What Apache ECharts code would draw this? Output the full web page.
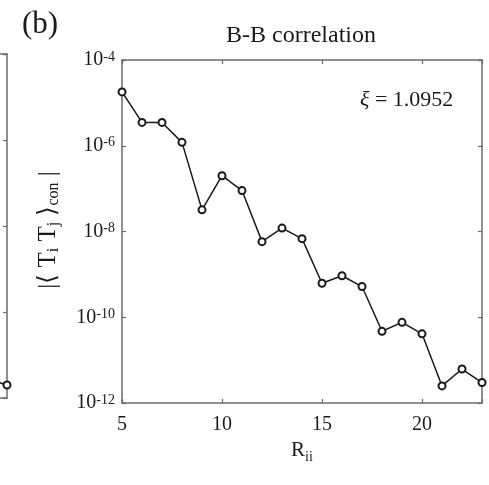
<!DOCTYPE html>
<html>
<head>
<meta charset="utf-8">
<style>
  html, body { margin: 0; padding: 0; background: #fff; }
  #chart { width: 489px; height: 485px; }
</style>
<script src="https://cdn.jsdelivr.net/npm/echarts@6/dist/echarts.min.js"></script>
</head>
<body>
<div id="chart"></div>
<script>
// Separation R_ii and the connected B-B correlation |<T_i T_j>_con|
const rValues = [5, 6, 7, 8, 9, 10, 11, 12, 13, 14, 15, 16, 17, 18, 19, 20, 21, 22, 23];
const bbCorr = [
  1.8e-5, 3.5e-6, 3.5e-6, 1.2e-6, 3.2e-8, 2.0e-7, 9.0e-8, 5.8e-9, 1.2e-8, 6.8e-9,
  6.2e-10, 9.3e-10, 5.2e-10, 4.7e-11, 7.6e-11, 4.1e-11, 2.5e-12, 6.2e-12, 3.0e-12
];
// Tail of the neighbouring panel (a), only its right edge is inside the page
const panelAR = [22, 23];
const panelACorr = [2.8e-12, 2.0e-12];

const xTicks = [5, 10, 15, 20];
const yExpMin = -12, yExpMax = -4;
const corrLength = '1.0952';

const FONT = 'Liberation Serif';
const INK = '#1a1a1a';
const AXIS = '#6b6b6b';

const chart = echarts.init(document.getElementById('chart'), null, { renderer: 'canvas' });

const pairs = (xs, ys) => xs.map((x, i) => [x, ys[i]]);

const powLabel = v => '{b|10}{p|' + Math.round(Math.log10(v)) + '}';
const powRich = {
  b: { fontFamily: FONT, fontSize: 20, lineHeight: 20, padding: [8, 0, 0, 0], verticalAlign: 'bottom', color: INK },
  p: { fontFamily: FONT, fontSize: 14, lineHeight: 14, verticalAlign: 'top', color: INK }
};

const boxLine = { show: true, onZero: false, lineStyle: { color: AXIS, width: 1.5 } };
const inTick = { show: true, inside: true, length: 4, lineStyle: { color: AXIS, width: 1.2 } };

const option = {
  animation: false,
  backgroundColor: '#fff',
  grid: [
    { left: 122, top: 60, width: 360, height: 343, outerBoundsMode: 'none', containLabel: false },
    { left: -353, top: 54, width: 360, height: 344, outerBoundsMode: 'none', containLabel: false }
  ],
  xAxis: [
    {
      gridIndex: 0, type: 'value', position: 'bottom',
      min: xTicks[0], max: rValues[rValues.length - 1], interval: 5,
      axisLine: boxLine, axisTick: inTick, splitLine: { show: false },
      axisLabel: {
        margin: 12, fontFamily: FONT, fontSize: 20, color: INK,
        formatter: v => (v % 5 === 0 ? String(v) : '')
      },
      name: '{m|R}{s|ii}', nameLocation: 'middle', nameGap: 19,
      nameTextStyle: {
        rich: {
          m: { fontFamily: FONT, fontSize: 21, lineHeight: 24, verticalAlign: 'top', color: INK },
          s: { fontFamily: FONT, fontSize: 14, lineHeight: 14, verticalAlign: 'bottom', color: INK }
        }
      }
    },
    {
      gridIndex: 0, type: 'value', position: 'top',
      min: xTicks[0], max: rValues[rValues.length - 1], interval: 5,
      axisLine: boxLine, axisTick: inTick, axisLabel: { show: false }, splitLine: { show: false }
    },
    {
      gridIndex: 1, type: 'value', position: 'bottom', min: 5, max: 23,
      axisLine: boxLine, axisTick: { show: false }, axisLabel: { show: false }, splitLine: { show: false }
    },
    {
      gridIndex: 1, type: 'value', position: 'top', min: 5, max: 23,
      axisLine: boxLine, axisTick: { show: false }, axisLabel: { show: false }, splitLine: { show: false }
    }
  ],
  yAxis: [
    {
      gridIndex: 0, type: 'log', logBase: 10, position: 'left',
      min: Math.pow(10, yExpMin), max: Math.pow(10, yExpMax), interval: 2,
      axisLine: boxLine, axisTick: inTick, splitLine: { show: false }, minorTick: { show: false },
      axisLabel: { margin: 7, formatter: powLabel, rich: powRich }
    },
    {
      gridIndex: 0, type: 'log', logBase: 10, position: 'right',
      min: Math.pow(10, yExpMin), max: Math.pow(10, yExpMax), interval: 2,
      axisLine: boxLine, axisTick: inTick, axisLabel: { show: false }, splitLine: { show: false }
    },
    {
      gridIndex: 1, type: 'log', logBase: 10, position: 'right',
      min: Math.pow(10, yExpMin), max: Math.pow(10, yExpMax), interval: 2,
      axisLine: boxLine, axisTick: inTick, axisLabel: { show: false }, splitLine: { show: false }
    }
  ],
  series: [
    {
      type: 'line', xAxisIndex: 0, yAxisIndex: 0,
      data: pairs(rValues, bbCorr),
      symbol: 'emptyCircle', symbolSize: 7,
      lineStyle: { color: INK, width: 1.5 },
      itemStyle: { color: INK, borderColor: INK, borderWidth: 1.3 },
      z: 5
    },
    {
      type: 'line', xAxisIndex: 2, yAxisIndex: 2,
      data: pairs(panelAR, panelACorr),
      symbol: 'emptyCircle', symbolSize: 7,
      lineStyle: { color: INK, width: 1.5 },
      itemStyle: { color: INK, borderColor: INK, borderWidth: 1.3 },
      clip: false
    }
  ],
  graphic: [
    {
      type: 'text', left: 22, top: 9,
      style: { text: '(b)', fontFamily: FONT, fontSize: 31, fill: INK }
    },
    {
      type: 'text', x: 301, y: 36,
      style: { text: 'B-B correlation', fontFamily: FONT, fontSize: 24, fill: INK, align: 'center', verticalAlign: 'middle' }
    },
    {
      type: 'text', x: 360, y: 100,
      style: {
        text: '{g|ξ}{n| = ' + corrLength + '}',
        align: 'left', verticalAlign: 'middle',
        rich: {
          g: { fontFamily: FONT, fontStyle: 'italic', fontSize: 22, fill: INK, color: INK },
          n: { fontFamily: FONT, fontSize: 22, fill: INK, color: INK }
        }
      }
    },
    {
      type: 'text', x: 49, y: 230, rotation: Math.PI / 2,
      style: {
        text: '{m||⟨ T}{s|i}{m| T}{s|j}{m| ⟩}{s|con}{m| |}',
        align: 'center', verticalAlign: 'middle',
        rich: {
          m: { fontFamily: FONT, fontSize: 25, lineHeight: 26, verticalAlign: 'top', fill: INK, color: INK },
          s: { fontFamily: FONT, fontSize: 16, lineHeight: 16, verticalAlign: 'bottom', fill: INK, color: INK }
        }
      }
    }
  ]
};

chart.setOption(option);
</script>
</body>
</html>
